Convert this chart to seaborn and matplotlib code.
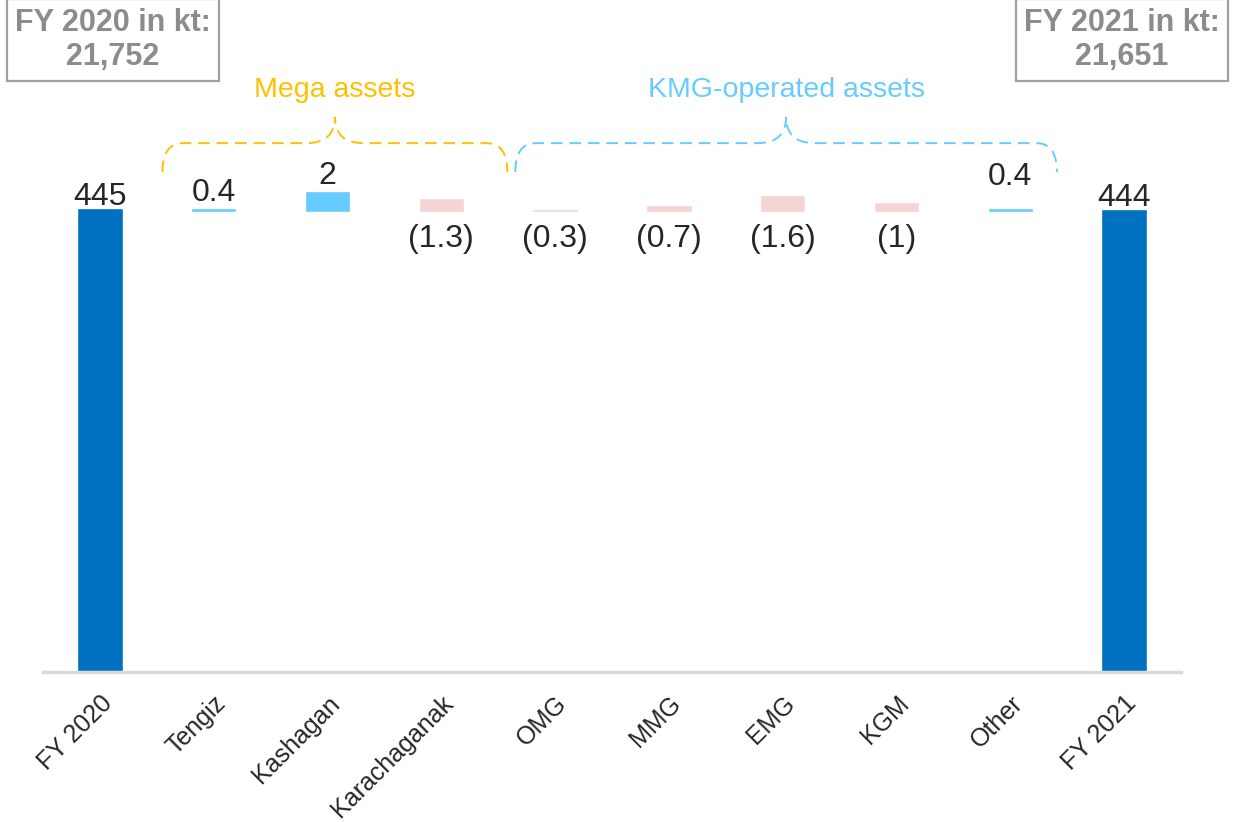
import matplotlib
matplotlib.use('Agg')
import matplotlib.pyplot as plt
import matplotlib.transforms as mtransforms
from matplotlib.path import Path
from matplotlib.patches import PathPatch
import seaborn as sns
import pandas as pd

# Datos del gráfico
categories = ['FY 2020', 'Tengiz', 'Kashagan', 'Karachaganak', 'OMG', 'MMG',
              'EMG', 'KGM', 'Other', 'FY 2021']
total_names = ['FY 2020', 'FY 2021']
total_values = [445, 444]
delta_names = ['Tengiz', 'Kashagan', 'Karachaganak', 'OMG', 'MMG', 'EMG', 'KGM', 'Other']
delta_values = [0.4, 2, -1.3, -0.3, -0.7, -1.6, -1, 0.4]
box_texts = ['FY 2020 in kt:\n21,752', 'FY 2021 in kt:\n21,651']
group_names = ['Mega assets', 'KMG-operated assets']

DARK_BLUE = '#0070C0'
LIGHT_BLUE = '#66CCFF'
PINK = '#F4D4D4'
ORANGE = '#FFC000'
TEXT = '#262626'


def draw_brace(ax, x0, x1, color, label):
    """Llave discontinua: x en datos, y en fracción del eje."""
    trans = mtransforms.blended_transform_factory(ax.transData, ax.transAxes)
    y_end, y_mid, y_peak = 0.744, 0.787, 0.826
    xp = (x0 + x1) / 2
    c, p = 0.18, 0.25
    verts = [(x0, y_end), (x0, y_mid), (x0 + c, y_mid),
             (xp - p, y_mid),
             (xp, y_mid), (xp, y_peak),
             (xp, y_mid), (xp + p, y_mid),
             (x1 - c, y_mid),
             (x1, y_mid), (x1, y_end)]
    codes = [Path.MOVETO, Path.CURVE3, Path.CURVE3,
             Path.LINETO,
             Path.CURVE3, Path.CURVE3,
             Path.CURVE3, Path.CURVE3,
             Path.LINETO,
             Path.CURVE3, Path.CURVE3]
    patch = PathPatch(Path(verts, codes), fill=False, edgecolor=color, lw=1.4,
                      linestyle=(0, (6, 3.5)), transform=trans, clip_on=False)
    ax.add_patch(patch)
    ax.text(xp, 0.856, label, transform=trans, ha='center', va='baseline',
            fontsize=20.5, color=color)


def plot_waterfall():
    sns.set_style('white')
    plt.rcParams['font.family'] = ['Liberation Sans', 'DejaVu Sans']

    fig = plt.figure(figsize=(12.36, 8.22), dpi=100)
    ax = fig.add_axes([43 / 1236, 150 / 822, 1138 / 1236, 672 / 822])
    ax2 = ax.twinx()

    df_tot = pd.DataFrame({'category': total_names, 'value': total_values})
    sns.barplot(data=df_tot, x='category', y='value', order=categories,
                color=DARK_BLUE, width=0.4, saturation=1, ax=ax)

    df_delta = pd.DataFrame({
        'category': delta_names,
        'height': [abs(v) for v in delta_values],
        'kind': ['up' if v > 0 else 'down' for v in delta_values],
    })
    sns.barplot(data=df_delta, x='category', y='height', hue='kind', order=categories,
                palette={'up': LIGHT_BLUE, 'down': PINK}, dodge=False, width=0.4,
                saturation=1, legend=False, ax=ax2)

    # Escalas: totales desde cero, variaciones ampliadas sobre una línea base
    ax.set_ylim(0, 643.8)
    ax2.set_ylim(-44.23, 20.38)
    ax.set_xlim(-0.5, len(categories) - 0.5)

    for name, val in zip(total_names, total_values):
        ax.annotate(f'{val:g}', (categories.index(name), val), xytext=(0, 3),
                    textcoords='offset pixels', ha='center', va='baseline',
                    fontsize=23, color=TEXT)
    nudge = {'Other': 16}  # la etiqueta de Other va más alta en el original
    for name, val in zip(delta_names, delta_values):
        i = categories.index(name)
        if val > 0:
            ax2.annotate(f'{val:g}', (i, abs(val)), xytext=(0, 7 + nudge.get(name, 0)),
                         textcoords='offset pixels', ha='center', va='baseline',
                         fontsize=23, color=TEXT)
        else:
            ax2.annotate(f'({abs(val):g})', (i, 0), xytext=(0, -12),
                         textcoords='offset pixels', ha='center', va='top',
                         fontsize=23, color=TEXT)

    draw_brace(ax2, 0.55, 3.58, ORANGE, group_names[0])
    draw_brace(ax2, 3.65, 8.41, LIGHT_BLUE, group_names[1])

    ax.set_xticks(range(len(categories)))
    ax.set_xticklabels(categories, rotation=45, ha='right', rotation_mode='anchor')
    ax.tick_params(axis='x', length=0, pad=14, labelsize=18, labelcolor=TEXT)
    ax.set_yticks([])
    ax2.set_yticks([])
    ax.set_xlabel('')
    ax.set_ylabel('')
    ax2.set_ylabel('')
    for side in ['top', 'left', 'right']:
        ax.spines[side].set_visible(False)
    for side in ax2.spines:
        ax2.spines[side].set_visible(False)
    ax.spines['bottom'].set_color('#D9D9D9')
    ax.spines['bottom'].set_linewidth(2.5)

    # Cajas con los totales en kt
    for text, xc in zip(box_texts, [113, 1122]):
        fig.text(xc / 1236, 1 - 40 / 822, text, ha='center', va='center',
                 fontsize=22, fontweight='bold', color='#8C8C8C', linespacing=1.2,
                 bbox=dict(boxstyle='square,pad=0.28', facecolor='white',
                           edgecolor='#A0A0A0', linewidth=1.6))

    fig.savefig('out.png', dpi=100)


if __name__ == "__main__":
    plot_waterfall()
